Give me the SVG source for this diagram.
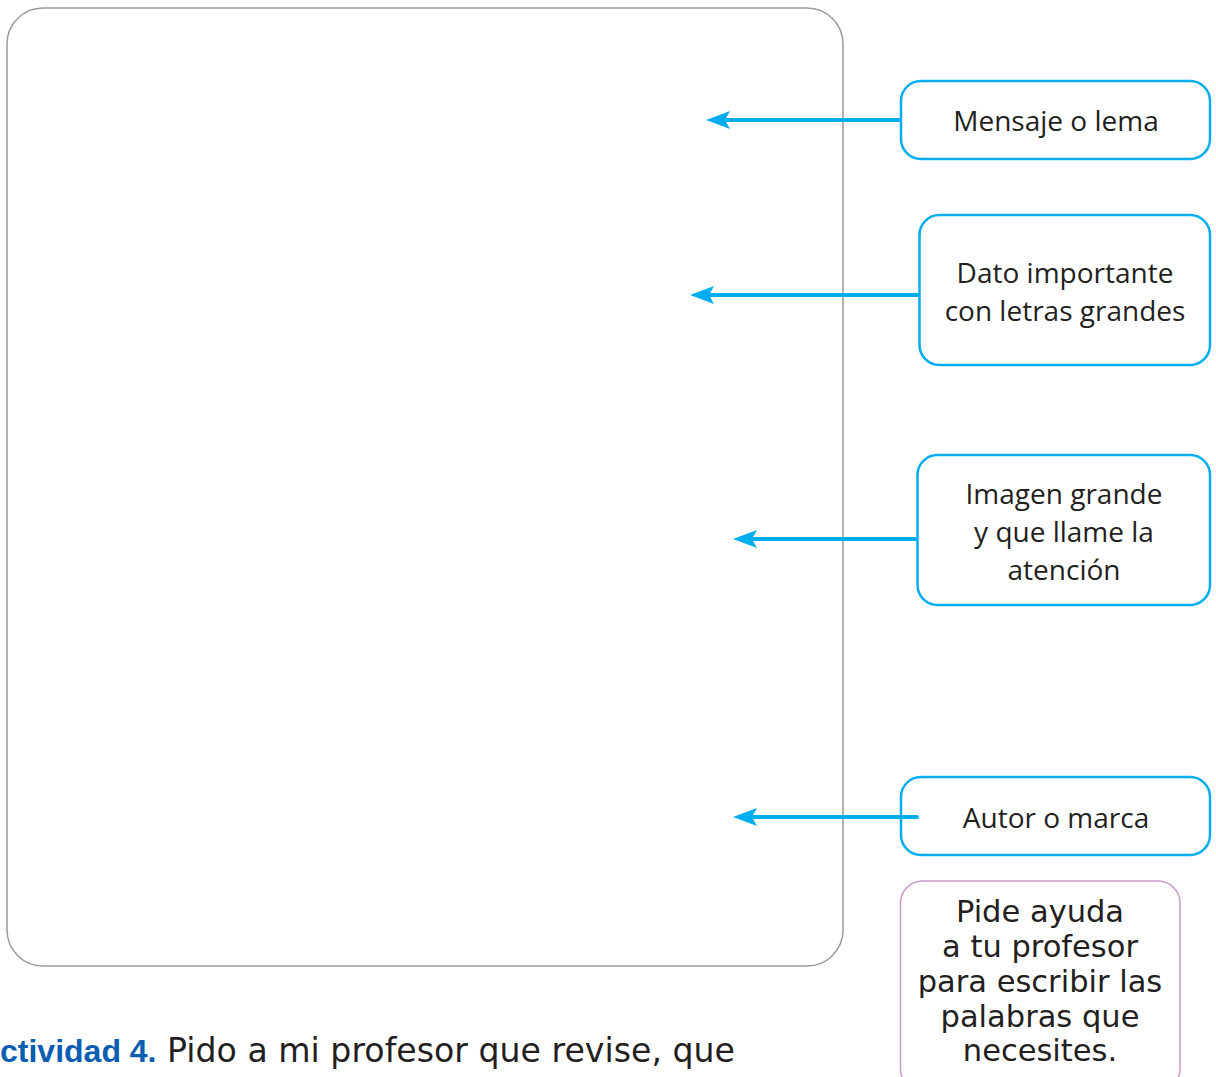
<svg xmlns="http://www.w3.org/2000/svg" width="1216" height="1077" viewBox="0 0 1216 1077">
<style>
.frame{fill:none;stroke:#9a9a9a;stroke-width:1.5}
.box{fill:#fff;stroke:#00aeef;stroke-width:2.5}
.tip{fill:#fff;stroke:#c99ac8;stroke-width:1.5}
.lbl{font-family:"Open Sans","Liberation Sans",sans-serif;font-size:28px;fill:#231f20;text-anchor:middle}
.tipt{font-family:"DejaVu Sans","Liberation Sans",sans-serif;font-size:30.5px;fill:#231f20;text-anchor:middle}
.conn{stroke:#00aeef;stroke-width:4;fill:none}
.foot{font-family:"DejaVu Sans","Liberation Sans",sans-serif;font-size:33px;fill:#231f20}
.footb{font-family:"Liberation Sans",sans-serif;font-size:32px;font-weight:bold;fill:#0a5db0}
</style>
<g id="frame"><rect class="frame" x="7" y="8" width="836" height="958" rx="36" ry="36"/></g>
<g id="n1"><rect class="box" x="901" y="81" width="309" height="78" rx="20"/><text class="lbl" x="1056" y="131">Mensaje o lema</text></g>
<g id="n2"><rect class="box" x="919.5" y="215" width="290.5" height="150" rx="20"/><text class="lbl" x="1065" y="283">Dato importante</text><text class="lbl" x="1065" y="321">con letras grandes</text></g>
<g id="n3"><rect class="box" x="917.5" y="455" width="292.5" height="150" rx="20"/><text class="lbl" x="1064" y="504">Imagen grande</text><text class="lbl" x="1064" y="542">y que llame la</text><text class="lbl" x="1064" y="580">atención</text></g>
<g id="n4"><rect class="box" x="901" y="777" width="309" height="78" rx="20"/><text class="lbl" x="1056" y="828">Autor o marca</text></g>
<g id="connectors">
<line class="conn" x1="900" y1="120" x2="720" y2="120"/>
<path d="M706 120 L730 111 L725 120 L730 129 Z" fill="#00aeef"/>
<line class="conn" x1="919" y1="295" x2="704" y2="295"/>
<path d="M690 295 L714 286 L709 295 L714 304 Z" fill="#00aeef"/>
<line class="conn" x1="917" y1="539" x2="747" y2="539"/>
<path d="M733 539 L757 530 L752 539 L757 548 Z" fill="#00aeef"/>
<line class="conn" x1="917" y1="817" x2="747" y2="817" stroke-linecap="round"/>
<path d="M733 817 L757 808 L752 817 L757 826 Z" fill="#00aeef"/>
</g>
<g id="tip"><rect class="tip" x="900.5" y="881" width="279.5" height="210" rx="22"/>
<text class="tipt" x="1040" y="922">Pide ayuda</text>
<text class="tipt" x="1040" y="957">a tu profesor</text>
<text class="tipt" x="1040" y="992">para escribir las</text>
<text class="tipt" x="1040" y="1027">palabras que</text>
<text class="tipt" x="1040" y="1061">necesites.</text>
</g>
<g id="footer"><text class="footb" x="0" y="1062">ctividad 4.</text><text class="foot" x="167" y="1062" textLength="568" lengthAdjust="spacingAndGlyphs">Pido a mi profesor que revise, que</text></g>
</svg>
